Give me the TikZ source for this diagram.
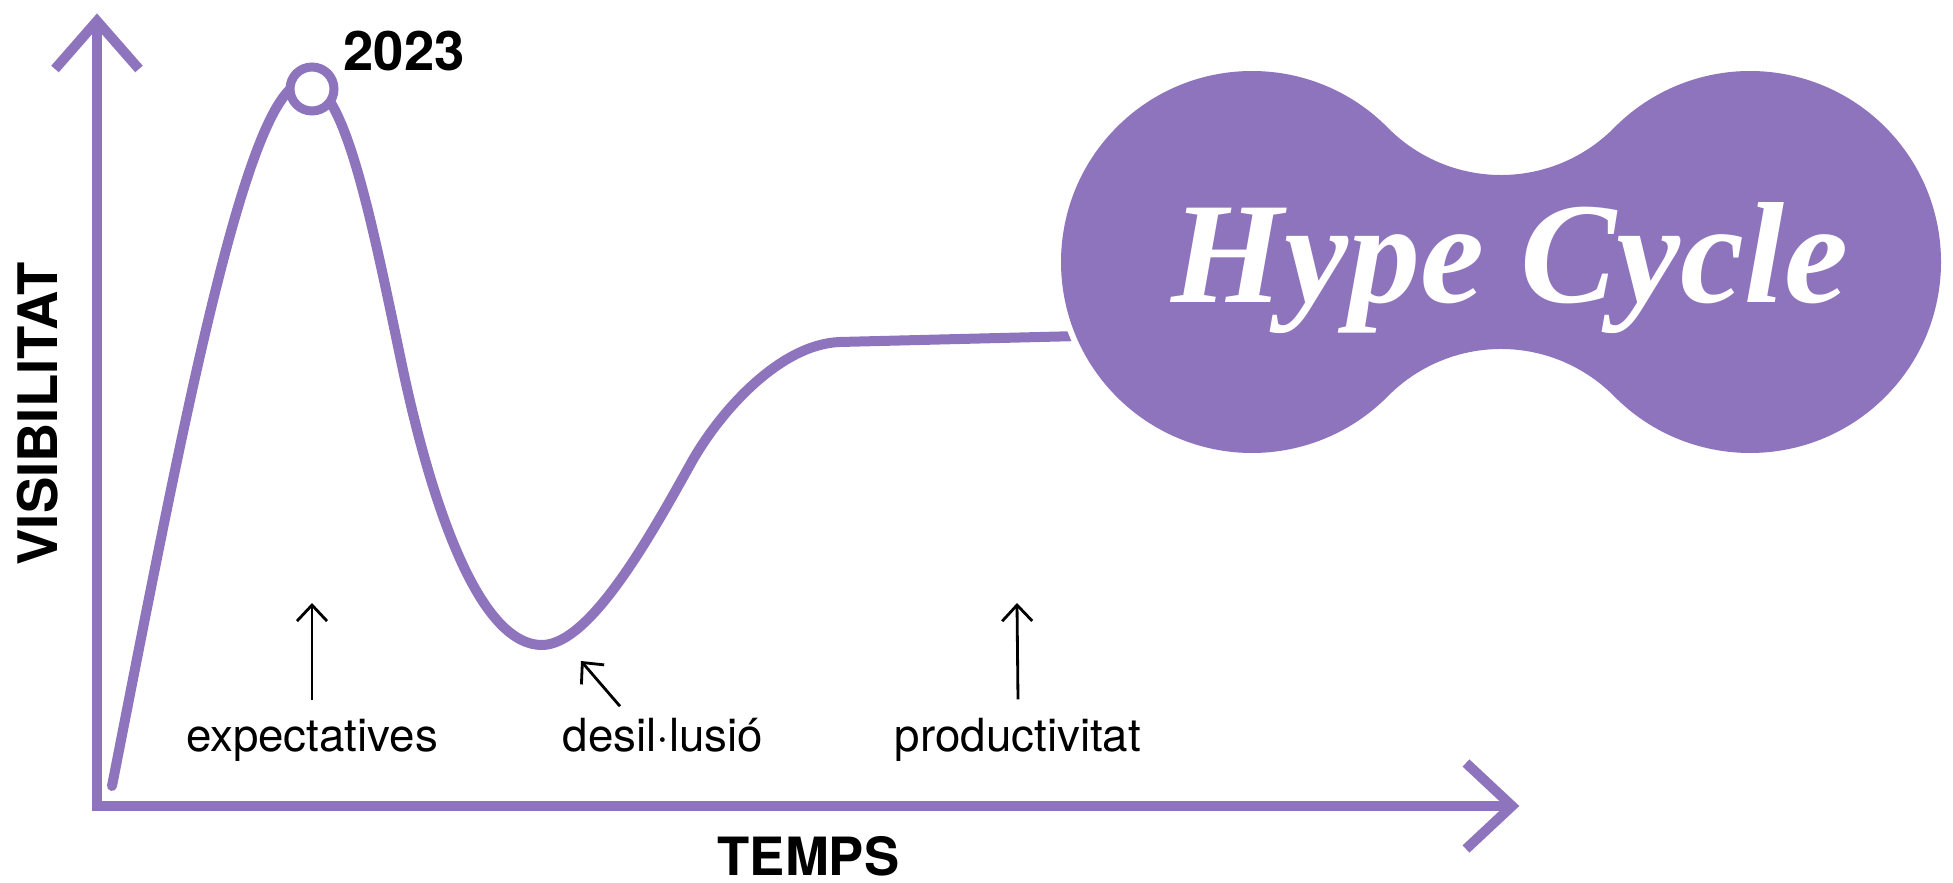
\documentclass[tikz,border=0pt]{standalone}
\usepackage{fontspec}
\setmainfont{TeX Gyre Heros}
\newfontfamily\hypefont{Liberation Serif}
\usepackage{xcolor}
\usetikzlibrary{arrows.meta}
\definecolor{hypecolor}{RGB}{142,116,188}

\begin{document}
\begin{tikzpicture}[
    axisline/.style={hypecolor, line width=1mm},
    hypeline/.style={hypecolor, line width=1mm, line cap=round, line join=round},
    pointer/.style={-{Straight Barb[length=1.6mm, width=3mm]}, line width=0.8pt},
    stage/.style={font=\fontsize{13}{15}\selectfont, anchor=base}
  ]
  \useasboundingbox (0,0) rectangle (19.53,8.83);

  % Axes
  \coordinate (origin) at (0.97,0.77);
  \coordinate (ytop) at (0.97,8.62);
  \coordinate (xend) at (15.12,0.77);
  \draw[axisline] (ytop) -- (origin) -- (xend);
  \draw[axisline] ([shift={(-0.42,-0.48)}]ytop) -- (ytop) -- ([shift={(0.42,-0.48)}]ytop);
  \draw[axisline] ([shift={(-0.46,0.43)}]xend) -- (xend) -- ([shift={(-0.46,-0.43)}]xend);

  % Axis titles
  \node[font=\bfseries\fontsize{15.5}{17}\selectfont, rotate=90, inner sep=0] (ylabel) at (0.38,4.69) {VISIBILITAT};
  \node[font=\bfseries\fontsize{15}{17}\selectfont, anchor=base west, inner sep=0] (xlabel) at (7.17,0.07) {TEMPS};

  % The hype curve
  \draw[hypeline] (1.12,0.97)
    .. controls (1.82,4.53) and (2.47,8.01) .. (3.05,8.01)
    .. controls (3.45,8.01) and (3.72,6.60) .. (4.03,5.13)
    .. controls (4.28,3.96) and (4.75,2.38) .. (5.42,2.38)
    .. controls (5.90,2.38) and (6.51,3.48) .. (6.90,4.18)
    .. controls (7.19,4.71) and (7.80,5.39) .. (8.40,5.41)
    -- (10.80,5.47);

  % Peak marker
  \draw[hypecolor, line width=0.9mm, fill=white] (3.12,7.94) circle (0.22);
  \node[font=\bfseries\fontsize{15.5}{17}\selectfont, anchor=base west, inner sep=0] (year) at (3.43,8.12) {2023};

  % Title blob
  \fill[hypecolor, preaction={draw=white, line width=1.2mm}] (12.52,6.21) ++(44.66:1.91)
    arc[start angle=44.66, end angle=315.34, radius=1.91]
    arc[start angle=135.34, end angle=44.66, radius=1.591]
    arc[start angle=224.66, end angle=495.34, radius=1.91]
    arc[start angle=315.34, end angle=224.66, radius=1.591] -- cycle;
  \node[text=white, font=\hypefont\bfseries\itshape\fontsize{41}{41}\selectfont, anchor=base] (title) at (15.10,5.80) {Hype Cycle};

  % Stages
  \node[stage] (lblexp) at (3.12,1.31) {expectatives};
  \node[stage] (lbldes) at (6.63,1.31) {desil·lusió};
  \node[stage] (lblprod) at (10.18,1.31) {productivitat};
  \coordinate (tipexp) at (3.12,2.80);
  \coordinate (tipdes) at (5.81,2.22);
  \coordinate (tipprod) at (10.17,2.80);
  \draw[pointer] ([yshift=0.7mm]lblexp.north) -- (tipexp);
  \draw[pointer] ([xshift=-4.3mm]lbldes.north) -- (tipdes);
  \draw[pointer] ([yshift=0.7mm]lblprod.north) -- (tipprod);
\end{tikzpicture}
\end{document}
